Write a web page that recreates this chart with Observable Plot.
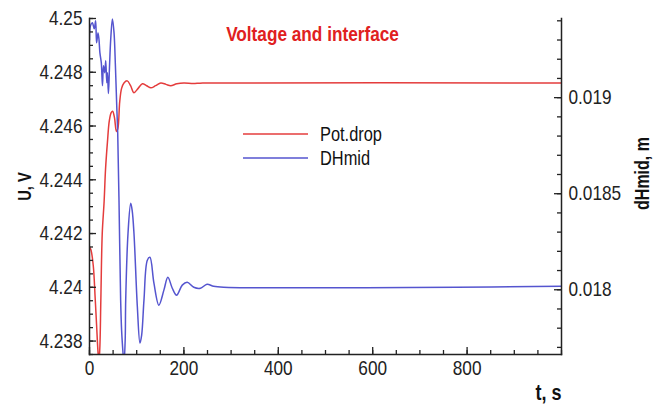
<!DOCTYPE html>
<html><head><meta charset="utf-8">
<script src="https://cdn.jsdelivr.net/npm/d3@7"></script>
<script src="https://cdn.jsdelivr.net/npm/@observablehq/plot@0.6"></script>
<style>
html,body{margin:0;padding:0;background:#fff;}
#chart{width:654px;height:404px;overflow:hidden;}
</style></head><body><div id="chart"></div>
<script>
// Pot.drop (left axis, U in V)
const potT = [0,3,8,12,15,18,20,22,24,27,31,34,38,42,46,49,53,57,60,64,68,73,80,87,94,103,112,121,130,140,151,162,172,185,200,220,240,1000];
const potU = [4.2415,4.2414,4.2408,4.2396,4.2386,4.2376,4.2372,4.2378,4.2395,4.2420,4.2432,4.2444,4.2454,4.2462,4.2465,4.24655,4.2463,4.2458,4.2459,4.2469,4.2474,4.2476,4.24768,4.2475,4.24724,4.2474,4.24757,4.2475,4.24742,4.2475,4.2476,4.24755,4.2475,4.24757,4.2476,4.24758,4.2476,4.2476];
// DHmid (right axis, m)
const dhT = [0,2,6,10,13,15,18,20,22,25,27.5,29.6,32.3,34.4,36.6,38,40.1,42.3,45,48.6,52,54.9,57.7,59.8,62.5,66,68,71,73,75.6,76.7,81.6,87.3,90.4,94.2,101.4,106.9,110.5,115.4,122.5,128,136.5,147,157.6,166,175.4,184.5,196.5,207,221,235,249,263,284,1000];
const dhH = [0.01930,0.019374,0.01939,0.019358,0.0194,0.019286,0.019337,0.019306,0.019234,0.019182,0.019062,0.019166,0.01913,0.019192,0.019078,0.01913,0.019021,0.019156,0.019306,0.01941,0.019337,0.019166,0.018958,0.018813,0.018465,0.017946,0.01779,0.017671,0.01761,0.017738,0.017946,0.018294,0.01845,0.018413,0.018294,0.01791,0.017723,0.017764,0.017946,0.018154,0.018169,0.018034,0.01792,0.017998,0.018065,0.018008,0.017972,0.018024,0.018039,0.018013,0.018008,0.018029,0.018018,0.018013,0.018018];

const xMajor = [0,200,400,600,800];
const xLabels = ["0","200","400","600","800"];
const leftMajor = [4.238,4.24,4.242,4.244,4.246,4.248,4.25];
const leftLabels = ["4.238","4.24","4.242","4.244","4.246","4.248","4.25"];
const rightMajor = [0.018,0.0185,0.019];
const rightLabels = ["0.018","0.0185","0.019"];
const seriesNames = ["Pot.drop","DHmid"];
const titleText = "Voltage and interface";

const L0 = 4.2375, L1 = 4.25;
const R0 = 0.017663, R1 = 0.019412;
const toLeft = v => L0 + (v - R0) / (R1 - R0) * (L1 - L0);

const xMinor = d3.range(0, 1001, 50);
const leftMinor = d3.range(0, 26).map(i => L0 + i * 0.0005);
const rightMinor = d3.range(177, 195).map(i => i / 10000);

const RED = "#e43c3c", BLUE = "#5555cf", AX = "#222", TITLE_RED = "#e02020";
const FONT = '"Liberation Sans",Arial,sans-serif';
const NARROW = 0.82;

const W = 654, H = 404, ML = 89, MR = 93, MT = 18, MB = 50;
const FW = W - ML - MR, FH = H - MT - MB;

const pot = potT.map((t, i) => ({t, v: potU[i]}));
const dh = dhT.map((t, i) => ({t, v: dhH[i]}));

const legend = (index, scales, values, dim) => {
  const g = d3.create("svg:g");
  const items = [{name: seriesNames[0], c: RED, y: 134}, {name: seriesNames[1], c: BLUE, y: 158}];
  for (const it of items) {
    g.append("line").attr("x1", 243).attr("x2", 308).attr("y1", it.y).attr("y2", it.y)
      .attr("stroke", it.c).attr("stroke-width", 1.4);
    g.append("text").attr("x", 320).attr("y", it.y).attr("dy", "0.35em")
      .attr("text-anchor", "start")
      .attr("fill", "#111").attr("font-size", 20).attr("font-family", FONT).text(it.name);
  }
  return g.node();
};

// inward ticks spanning only a few pixels from the axis line
const tickB = (vals, len) => Plot.tickX(vals, {x: d => d, insetTop: FH - len, stroke: AX, strokeWidth: 1.3});
const tickL = (vals, len) => Plot.tickY(vals, {y: d => d, insetRight: FW - len, stroke: AX, strokeWidth: 1.3});
const tickR = (vals, len) => Plot.tickY(vals, {y: d => d, insetLeft: FW - len, stroke: AX, strokeWidth: 1.3});

const chart = Plot.plot({
  width: W, height: H,
  marginLeft: ML, marginRight: MR, marginTop: MT, marginBottom: MB,
  x: {domain: [0, 1000]},
  y: {domain: [L0, L1]},
  style: {fontFamily: FONT, fontSize: "21px", color: AX, background: "white"},
  marks: [
    Plot.line(pot, {x: "t", y: "v", stroke: RED, strokeWidth: 1.5, curve: "catmull-rom", clip: true}),
    Plot.line(dh, {x: "t", y: d => toLeft(d.v), stroke: BLUE, strokeWidth: 1.5, curve: "catmull-rom", clip: true}),
    tickB(xMinor, 4), tickB(xMajor, 7),
    tickL(leftMinor, 4), tickL(leftMajor, 7),
    tickR(rightMinor.map(toLeft), 4), tickR(rightMajor.map(toLeft), 7),
    Plot.frame({anchor: "left", stroke: AX, strokeWidth: 1.5}),
    Plot.frame({anchor: "bottom", stroke: AX, strokeWidth: 1.5}),
    Plot.frame({anchor: "right", stroke: AX, strokeWidth: 1.5}),
    Plot.axisX({ticks: xMajor, tickSize: 0, tickPadding: 6, tickFormat: (d) => xLabels[xMajor.indexOf(d)], label: null}),
    Plot.axisY({ticks: leftMajor, tickSize: 0, tickPadding: 7, tickFormat: (d) => leftLabels[leftMajor.indexOf(d)], label: null}),
    Plot.axisY({anchor: "right", ticks: rightMajor.map(toLeft), tickSize: 0, tickPadding: 7, tickFormat: (d) => rightLabels[rightMajor.findIndex(r => Math.abs(toLeft(r) - d) < 1e-9)], label: null}),
    Plot.text([titleText], {frameAnchor: "top", lineAnchor: "middle", text: d => d, dx: -13, dy: 16, fill: TITLE_RED, fontWeight: "bold", fontSize: 21}),
    Plot.text(["U, V"], {frameAnchor: "left", lineAnchor: "middle", textAnchor: "middle", text: d => d, rotate: -90, dx: -64, dy: 0, fontWeight: "bold", fontSize: 18, fill: "#111"}),
    Plot.text(["dHmid, m"], {frameAnchor: "right", lineAnchor: "middle", textAnchor: "middle", text: d => d, rotate: -90, dx: 81, dy: -13, fontWeight: "bold", fontSize: 19.5, fill: "#111"}),
    Plot.text(["t, s"], {frameAnchor: "bottom-right", lineAnchor: "middle", text: d => d, textAnchor: "end", dy: 38, fontWeight: "bold", fontSize: 22, fill: "#111"}),
    legend
  ]
});
document.getElementById("chart").appendChild(chart);
// narrow (condensed) lettering as in the reference: squeeze each text along its own baseline around its anchor
chart.querySelectorAll("text").forEach(t => {
  const x = parseFloat(t.getAttribute("x")) || 0;
  const tr = t.getAttribute("transform") || "";
  t.setAttribute("transform", `${tr} translate(${x},0) scale(${NARROW},1) translate(${-x},0)`.trim());
});
</script>
</body></html>
